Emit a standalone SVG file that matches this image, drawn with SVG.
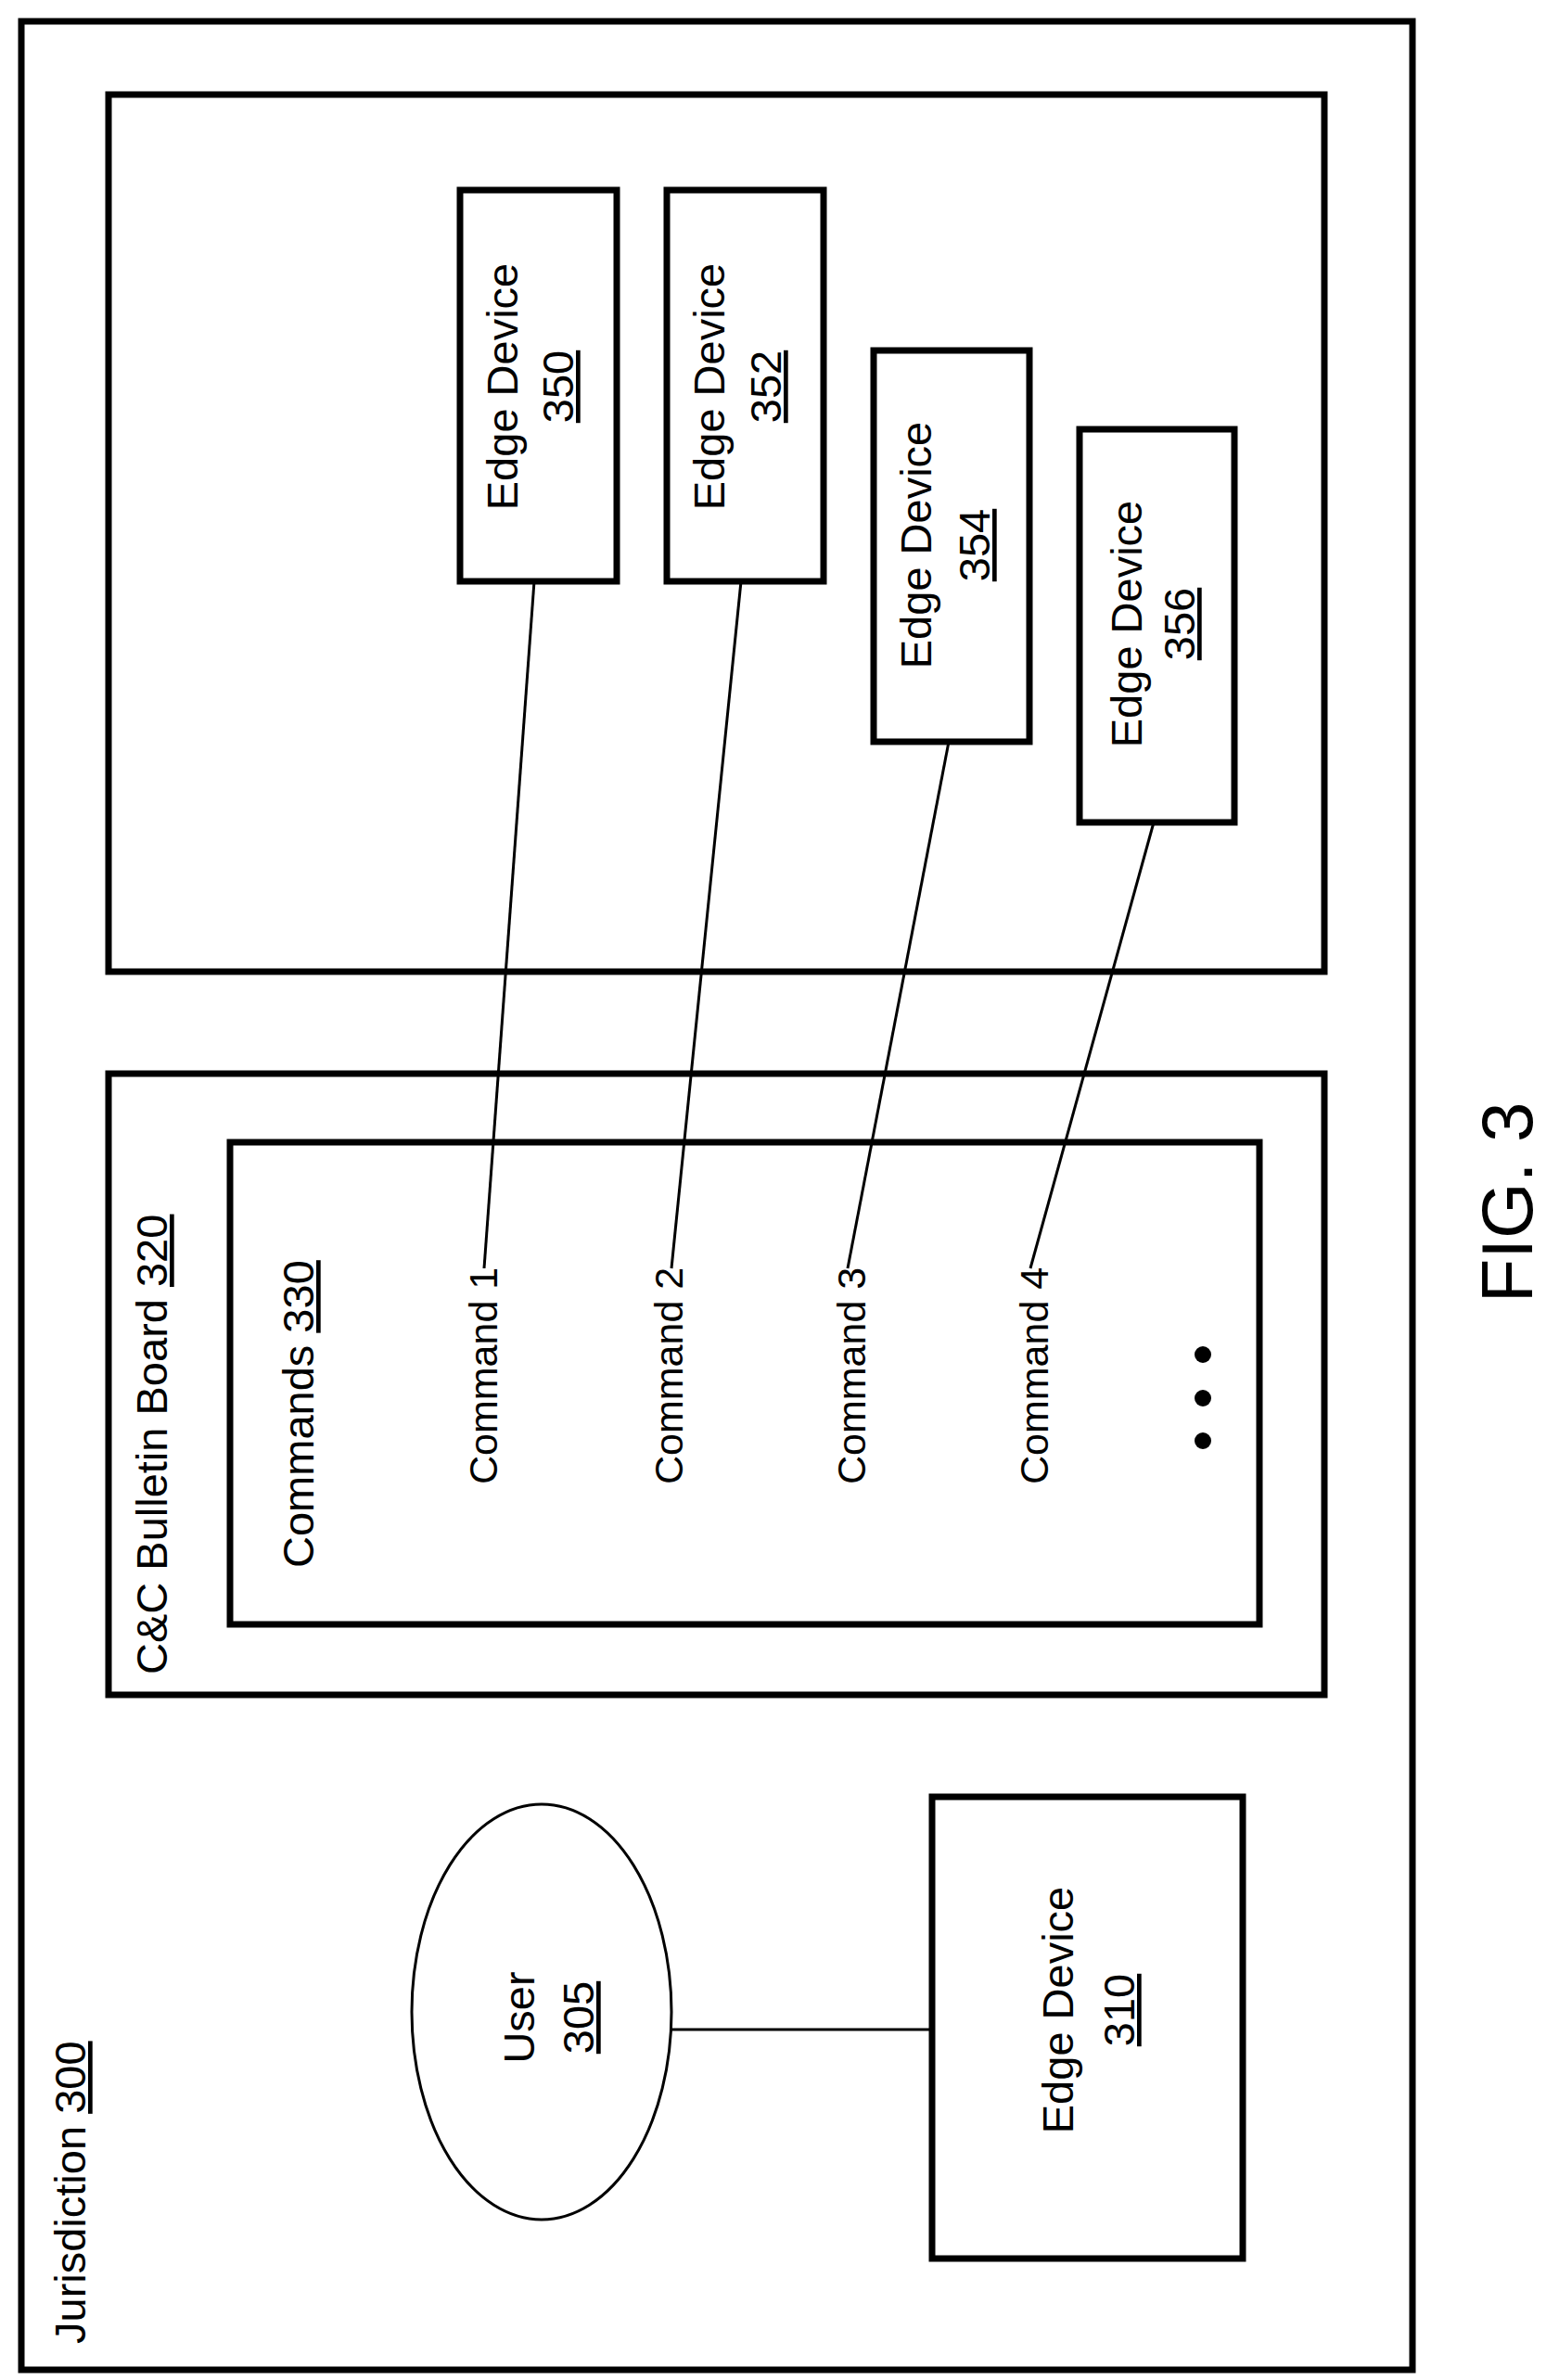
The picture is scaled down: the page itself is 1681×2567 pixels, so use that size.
<svg xmlns="http://www.w3.org/2000/svg" width="1681" height="2567" viewBox="0 0 1681 2567">
<style>
.b{fill:#fff;stroke:#000;stroke-width:7}
.t{font-family:"Liberation Sans",Arial,sans-serif;font-size:47px;fill:#000}
.s{font-size:43px}
.m{text-anchor:middle}
.c{stroke:#000;stroke-width:3;fill:none}
</style>
<rect width="1681" height="2567" fill="#fff"/>
<g id="jurisdiction300">
<rect class="b" x="23" y="23" width="1500" height="2533"/>
<text class="t" transform="translate(92,2528) rotate(-90)">Jurisdiction <tspan text-decoration="underline">300</tspan></text>
</g>
<g id="edgearea"><rect class="b" x="117" y="102" width="1311" height="946"/></g>
<g id="bulletin320">
<rect class="b" x="117" y="1158" width="1311" height="670"/>
<text class="t" transform="translate(180,1806) rotate(-90)">C&amp;C Bulletin Board <tspan text-decoration="underline">320</tspan></text>
</g>
<g id="commands330">
<rect class="b" x="248" y="1232" width="1110" height="520"/>
<text class="t" transform="translate(338,1691) rotate(-90)">Commands <tspan text-decoration="underline">330</tspan></text>
<text class="t s" transform="translate(536,1601) rotate(-90)">Command 1</text>
<text class="t s" transform="translate(736,1601) rotate(-90)">Command 2</text>
<text class="t s" transform="translate(933,1601) rotate(-90)">Command 3</text>
<text class="t s" transform="translate(1130,1601) rotate(-90)">Command 4</text>
<circle cx="1297" cy="1461" r="9"/><circle cx="1297" cy="1508" r="9"/><circle cx="1297" cy="1554" r="9"/>
</g>
<g id="edge350"><rect class="b" x="496" y="205" width="169" height="422"/>
<text class="t m" transform="translate(558,417) rotate(-90)">Edge Device</text>
<text class="t m" transform="translate(618,417) rotate(-90)" text-decoration="underline">350</text></g>
<g id="edge352"><rect class="b" x="719" y="205" width="169" height="422"/>
<text class="t m" transform="translate(781,417) rotate(-90)">Edge Device</text>
<text class="t m" transform="translate(842,417) rotate(-90)" text-decoration="underline">352</text></g>
<g id="edge354"><rect class="b" x="942" y="378" width="168" height="422"/>
<text class="t m" transform="translate(1004,588) rotate(-90)">Edge Device</text>
<text class="t m" transform="translate(1067,588) rotate(-90)" text-decoration="underline">354</text></g>
<g id="edge356"><rect class="b" x="1164" y="463" width="167" height="424"/>
<text class="t m" transform="translate(1231,673) rotate(-90)">Edge Device</text>
<text class="t m" transform="translate(1288,673) rotate(-90)" text-decoration="underline">356</text></g>
<g id="user305"><ellipse cx="584" cy="2170" rx="140" ry="224" fill="#fff" stroke="#000" stroke-width="3"/>
<text class="t m" transform="translate(576,2176) rotate(-90)">User</text>
<text class="t m" transform="translate(640,2176) rotate(-90)" text-decoration="underline">305</text></g>
<g id="edge310"><rect class="b" x="1005" y="1938" width="335" height="498"/>
<text class="t m" transform="translate(1157,2168) rotate(-90)">Edge Device</text>
<text class="t m" transform="translate(1223,2168) rotate(-90)" text-decoration="underline">310</text></g>
<g id="connectors">
<line class="c" x1="576" y1="627" x2="522" y2="1368"/>
<line class="c" x1="799" y1="627" x2="724" y2="1368"/>
<line class="c" x1="1023" y1="800" x2="914" y2="1368"/>
<line class="c" x1="1244" y1="887" x2="1111" y2="1368"/>
<line class="c" x1="724" y1="2189" x2="1005" y2="2189"/>
</g>
<text font-family="Liberation Sans,Arial,sans-serif" font-size="78" text-anchor="middle" transform="translate(1652,1297) rotate(-90)">FIG. 3</text>
</svg>
